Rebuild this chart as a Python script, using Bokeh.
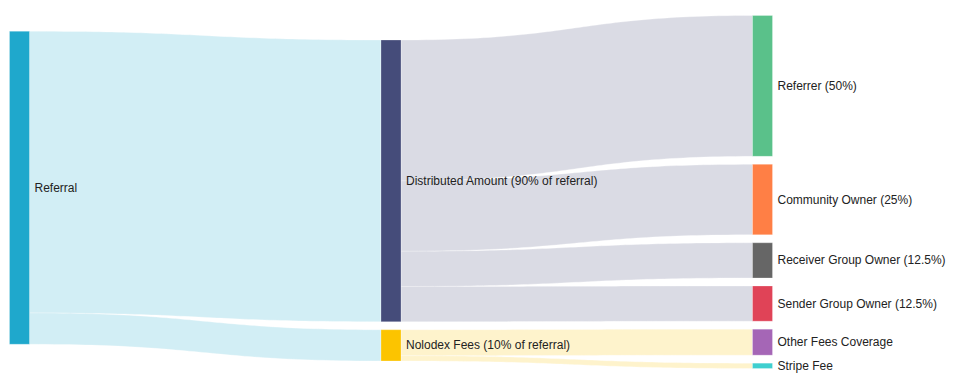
import numpy as np
from bokeh.plotting import figure
from bokeh.models import Range1d, ColumnDataSource
from bokeh.core.properties import value
from bokeh.embed import file_html
from bokeh.resources import INLINE

# ---------------- data ----------------
node_labels = [
    "Referral",
    "Distributed Amount (90% of referral)",
    "Nolodex Fees (10% of referral)",
    "Referrer (50%)",
    "Community Owner (25%)",
    "Receiver Group Owner (12.5%)",
    "Sender Group Owner (12.5%)",
    "Other Fees Coverage",
    "Stripe Fee",
]
node_colors = [
    "#1fa8cc", "#454c7a", "#fcc400", "#5ac18a", "#ff7f45",
    "#666666", "#e04357", "#a566b6", "#3fcfcf",
]
link_source = [0, 0, 1, 1, 1, 1, 2, 2]
link_target = [1, 2, 3, 4, 5, 6, 7, 8]
link_value = [90, 10, 45, 22.5, 11.25, 11.25, 8.3, 1.7]

# ---------------- layout parameters ----------------
W, H = 961, 376
X0, X1 = 9.0, 772.0
Y0, Y1 = 15.0, 368.0
NODE_W = 20.0
PAD = 8.0
ITER = 50
CURV = 0.5

# ---------------- sankey layout (d3-sankey style) ----------------
n = len(node_labels)
src_links = [[] for _ in range(n)]
tgt_links = [[] for _ in range(n)]
for k, (s, t) in enumerate(zip(link_source, link_target)):
    src_links[s].append(k)
    tgt_links[t].append(k)
node_value = [max(sum(link_value[k] for k in src_links[i]),
                  sum(link_value[k] for k in tgt_links[i])) for i in range(n)]
depth = [0] * n
for _ in range(n):
    for s, t in zip(link_source, link_target):
        depth[t] = max(depth[t], depth[s] + 1)
ncol = max(depth) + 1
kx = (X1 - X0 - NODE_W) / (ncol - 1)
nx0 = [X0 + depth[i] * kx for i in range(n)]
nx1 = [x + NODE_W for x in nx0]
columns = [[i for i in range(n) if depth[i] == c] for c in range(ncol)]
ky = min((Y1 - Y0 - (len(col) - 1) * PAD) / sum(node_value[i] for i in col)
         for col in columns)
ny0 = [0.0] * n
ny1 = [0.0] * n
for col in columns:
    for j, i in enumerate(col):
        ny0[i] = float(j)
        ny1[i] = ny0[i] + node_value[i] * ky
lw = [v * ky for v in link_value]


def center(i):
    return (ny0[i] + ny1[i]) / 2


def resolve():
    for col in columns:
        col.sort(key=lambda i: ny0[i])
        y = Y0
        for i in col:
            dy = y - ny0[i]
            if dy > 0:
                ny0[i] += dy
                ny1[i] += dy
            y = ny1[i] + PAD
        dy = y - PAD - Y1
        if dy > 0:
            last = col[-1]
            ny0[last] -= dy
            ny1[last] -= dy
            y = ny0[last]
            for i in reversed(col[:-1]):
                dy = ny1[i] + PAD - y
                if dy > 0:
                    ny0[i] -= dy
                    ny1[i] -= dy
                y = ny0[i]


resolve()
alpha = 1.0
for _ in range(ITER):
    alpha *= 0.99
    for col in reversed(columns):
        for i in col:
            if src_links[i]:
                tot = sum(link_value[k] for k in src_links[i])
                c = sum(center(link_target[k]) * link_value[k] for k in src_links[i]) / tot
                dy = (c - center(i)) * alpha
                ny0[i] += dy
                ny1[i] += dy
    resolve()
    for col in columns:
        for i in col:
            if tgt_links[i]:
                tot = sum(link_value[k] for k in tgt_links[i])
                c = sum(center(link_source[k]) * link_value[k] for k in tgt_links[i]) / tot
                dy = (c - center(i)) * alpha
                ny0[i] += dy
                ny1[i] += dy
    resolve()

# link depths
ly0 = [0.0] * len(link_value)
ly1 = [0.0] * len(link_value)
for i in range(n):
    y = ny0[i]
    for k in sorted(src_links[i], key=lambda k: ny0[link_target[k]]):
        ly0[k] = y
        y += lw[k]
    y = ny0[i]
    for k in sorted(tgt_links[i], key=lambda k: ny0[link_source[k]]):
        ly1[k] = y
        y += lw[k]

# link patches
t = np.linspace(0, 1, 60)


def bez(p0, p1, p2, p3):
    return ((1 - t) ** 3) * p0 + 3 * ((1 - t) ** 2) * t * p1 + 3 * (1 - t) * t ** 2 * p2 + t ** 3 * p3


xs, ys, lcol = [], [], []
for k in range(len(link_value)):
    s, tg = link_source[k], link_target[k]
    xa, xb = nx1[s], nx0[tg]
    xc1 = xa + (xb - xa) * CURV
    xc2 = xa + (xb - xa) * (1 - CURV)
    bx = bez(xa, xc1, xc2, xb)
    top = bez(ly0[k], ly0[k], ly1[k], ly1[k])
    bot = bez(ly0[k] + lw[k], ly0[k] + lw[k], ly1[k] + lw[k], ly1[k] + lw[k])
    xs.append(list(bx) + list(bx[::-1]))
    ys.append(list(top) + list(bot[::-1]))
    lcol.append(node_colors[s])

p = figure(width=W, height=H, output_backend="svg", toolbar_location=None,
           x_range=Range1d(0, W), y_range=Range1d(H, 0),
           min_border=0, x_axis_location=None, y_axis_location=None)
p.grid.visible = False
p.outline_line_color = None
p.background_fill_color = "white"
p.border_fill_color = "white"

p.patches(xs=xs, ys=ys, fill_color=lcol, fill_alpha=0.2,
          line_color="white", line_width=0.5, line_alpha=0.6)

nsrc = ColumnDataSource(dict(left=nx0, right=nx1, top=ny0, bottom=ny1, color=node_colors,
                             lx=[x + 5 for x in nx1], ly=[(a + b) / 2 for a, b in zip(ny0, ny1)],
                             label=node_labels))
p.quad(left="left", right="right", top="top", bottom="bottom", source=nsrc,
       fill_color="color", line_color="white", line_width=0.5, line_alpha=0.5)
p.text(x="lx", y="ly", text="label", source=nsrc, text_font=value("Liberation Sans"),
       text_font_size="12px", text_color="#222222", text_baseline="middle", text_align="left")

open("out.html", "w").write(file_html(p, INLINE))
